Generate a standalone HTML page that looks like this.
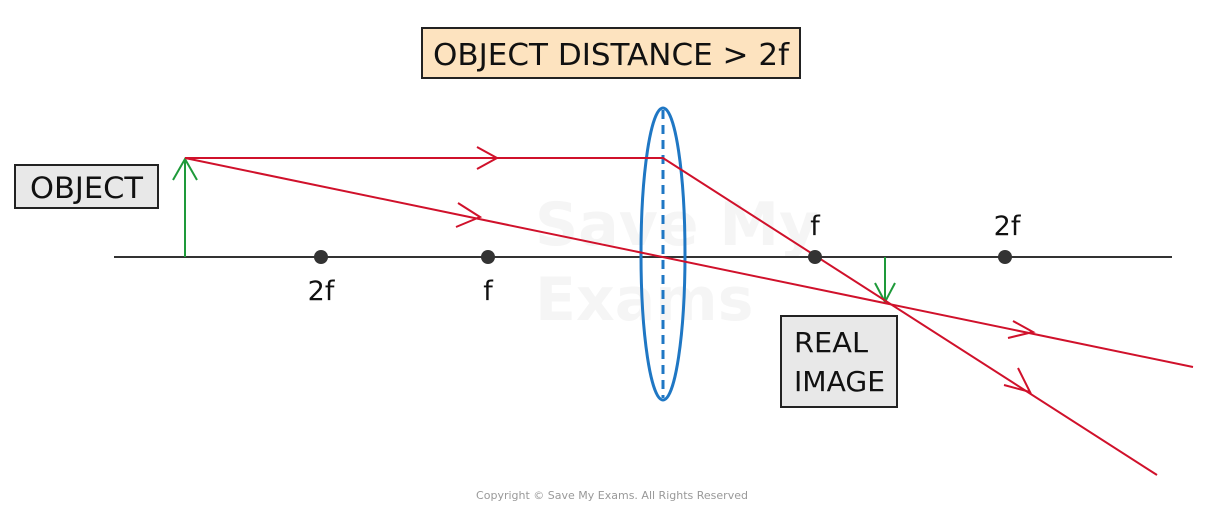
<!DOCTYPE html>
<html><head><style>
body{margin:0;background:#fff;}
svg{display:block;}
text{font-family:"DejaVu Sans","Liberation Sans",sans-serif;}
</style></head><body>
<svg width="1226" height="517" viewBox="0 0 1226 517">
<!-- watermark -->
<text x="535" y="245" font-size="60" font-weight="bold" fill="#f5f5f5">Save My</text>
<text x="535" y="320" font-size="60" font-weight="bold" fill="#f5f5f5">Exams</text>
<!-- title -->
<rect x="422" y="28" width="378" height="50" fill="#fde3bf" stroke="#222" stroke-width="2"/>
<text x="433" y="65" font-size="30" textLength="356" lengthAdjust="spacingAndGlyphs" fill="#111">OBJECT DISTANCE &gt; 2f</text>
<!-- object box -->
<rect x="15" y="165" width="143" height="43" fill="#e8e8e8" stroke="#222" stroke-width="2"/>
<text x="30" y="198" font-size="29" textLength="113" lengthAdjust="spacingAndGlyphs" fill="#111">OBJECT</text>
<!-- real image box -->
<rect x="781" y="316" width="116" height="91" fill="#e8e8e8" stroke="#222" stroke-width="2"/>
<text x="794" y="352" font-size="28" textLength="74" lengthAdjust="spacingAndGlyphs" fill="#111">REAL</text>
<text x="794" y="391" font-size="28" textLength="91" lengthAdjust="spacingAndGlyphs" fill="#111">IMAGE</text>
<!-- axis -->
<line x1="114" y1="257" x2="1172" y2="257" stroke="#333" stroke-width="2"/>
<!-- lens -->
<ellipse cx="663" cy="254" rx="22" ry="146" fill="none" stroke="#1f77c4" stroke-width="3"/>
<line x1="663" y1="110" x2="663" y2="398" stroke="#1f77c4" stroke-width="3" stroke-dasharray="9,6"/>
<!-- object arrow -->
<line x1="185" y1="257" x2="185" y2="159" stroke="#1e9a3a" stroke-width="2"/>
<polyline points="173,180 185,159 197,180" fill="none" stroke="#1e9a3a" stroke-width="2"/>
<!-- image arrow -->
<line x1="885" y1="257" x2="885" y2="302" stroke="#1e9a3a" stroke-width="2"/>
<polyline points="875,283 885,302 895,283" fill="none" stroke="#1e9a3a" stroke-width="2"/>
<!-- rays -->
<g stroke="#d0112b" stroke-width="2" fill="none">
<polyline points="185,158 663,158 1157,475"/>
<line x1="185" y1="158" x2="1193" y2="367"/>
<polyline points="477,147 497,158 477,169"/>
<polyline points="458,203 480,217 456,227"/>
<polyline points="1013,321 1033,332 1008,338"/>
<polyline points="1018,368 1030,392 1004,385"/>
</g>
<!-- dots -->
<g fill="#333">
<circle cx="321" cy="257" r="7"/><circle cx="488" cy="257" r="7"/>
<circle cx="815" cy="257" r="7"/><circle cx="1005" cy="257" r="7"/>
</g>
<text x="321" y="300" font-size="27" text-anchor="middle" fill="#111">2f</text>
<text x="488" y="300" font-size="27" text-anchor="middle" fill="#111">f</text>
<text x="815" y="235" font-size="27" text-anchor="middle" fill="#111">f</text>
<text x="1007" y="235" font-size="27" text-anchor="middle" fill="#111">2f</text>
<text x="612" y="499" font-size="11" text-anchor="middle" fill="#999">Copyright © Save My Exams. All Rights Reserved</text>
</svg>
</body></html>
